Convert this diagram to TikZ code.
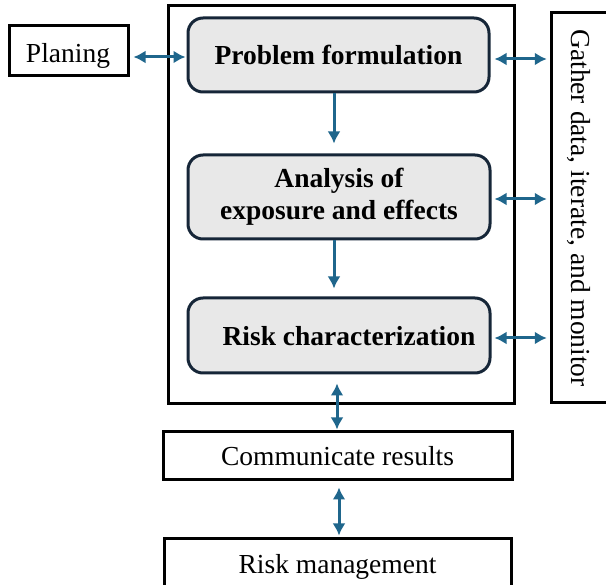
\documentclass[tikz,border=0pt]{standalone}
\usepackage{fontspec}
\setmainfont{Liberation Serif}
\usetikzlibrary{arrows.meta}
\definecolor{arrblue}{RGB}{31,102,140}
\definecolor{boxgray}{RGB}{232,232,232}
\definecolor{navy}{RGB}{22,38,56}
\tikzset{
  plainbox/.style={draw=black, line width=3pt, fill=white, inner sep=0pt, text depth=0pt, font=\fontsize{27.5}{30}\selectfont},
  graybox/.style={draw=navy, line width=3pt, fill=boxgray, rounded corners=15pt, inner sep=0pt, font=\fontsize{27.5}{32}\selectfont\bfseries, align=center},
  arr/.style={draw=arrblue, line width=3pt, {Latex[length=12pt,width=13pt]}-{Latex[length=12pt,width=13pt]}},
  arrone/.style={draw=arrblue, line width=3pt, -{Latex[length=12pt,width=13pt]}}
}
\begin{document}
\begin{tikzpicture}[x=1pt,y=-1pt]
\useasboundingbox (0,0) rectangle (606,585);
% big frame
\node[draw=black, line width=3pt, minimum width=346pt, minimum height=398pt, inner sep=0pt] (frame) at (341.5,205) {};
% right box (open on the right, runs off the picture)
\node[inner sep=0pt, minimum width=110pt, minimum height=389pt] (gbox) at (607,207.5) {};
\draw[line width=3pt, line join=miter] (gbox.north east) -- (gbox.north west) -- (gbox.south west) -- (gbox.south east);
\node[rotate=-90, font=\fontsize{27.5}{30}\selectfont, inner sep=0pt] (gtext) at (579,208) {Gather data, iterate, and monitor};
% left
\node[plainbox, minimum width=119pt, minimum height=50pt] (plan) at (68.5,51) {};
\node[font=\fontsize{27.5}{30}\selectfont, inner sep=0pt, text depth=0pt] (plantext) at (68,52.5) {Planing};
% gray boxes
\node[graybox, minimum width=301pt, minimum height=74pt] (prob) at (338.5,55) {Problem formulation};
\node[graybox, minimum width=302pt, minimum height=84pt] (anal) at (339,197) {Analysis of\\exposure and effects};
\node[graybox, minimum width=302pt, minimum height=75pt] (risk) at (339,335.5) {};
\node[font=\fontsize{27.5}{30}\selectfont\bfseries, inner sep=0pt] (risktext) at (349,336) {Risk characterization};
% bottom boxes
\node[plainbox, minimum width=349pt, minimum height=48pt] (comm) at (337.5,456) {Communicate results};
\node[plainbox, minimum width=347pt, minimum height=54pt] (rm) at (337.5,566) {};
\node[font=\fontsize{27.5}{30}\selectfont, inner sep=0pt, text depth=0pt] (rmtext) at (337.5,563.5) {Risk management};
% connectors
\coordinate (pa) at (plan.east |- 0,57);
\coordinate (pb) at (prob.west |- 0,57);
\draw[arr, shorten <=4pt, shorten >=1pt] (pa) -- (pb);
\coordinate (r1a) at (prob.east |- 0,59);
\coordinate (r1b) at (gbox.west |- 0,59);
\draw[arr, shorten <=4pt, shorten >=5pt] (r1a) -- (r1b);
\coordinate (r2a) at (anal.east |- 0,199);
\coordinate (r2b) at (gbox.west |- 0,199);
\draw[arr, shorten <=3pt, shorten >=5pt] (r2a) -- (r2b);
\coordinate (r3a) at (risk.east |- 0,338);
\coordinate (r3b) at (gbox.west |- 0,338);
\draw[arr, shorten <=3pt, shorten >=5pt] (r3a) -- (r3b);
\coordinate (d1a) at (prob.south -| 334,0);
\coordinate (d1b) at (anal.north -| 334,0);
\draw[arrone, shorten >=10pt] (d1a) -- (d1b);
\coordinate (d2a) at (anal.south -| 334,0);
\coordinate (d2b) at (risk.north -| 334,0);
\draw[arrone, shorten >=8pt] (d2a) -- (d2b);
\coordinate (d3a) at (risk.south -| 337,0);
\coordinate (d3b) at (comm.north -| 337,0);
\draw[arr, shorten <=9pt, shorten >=1pt] (d3a) -- (d3b);
\coordinate (d4a) at (comm.south -| 339,0);
\coordinate (d4b) at (rm.north -| 339,0);
\draw[arr, shorten <=6pt, shorten >=2pt] (d4a) -- (d4b);
\end{tikzpicture}
\end{document}
